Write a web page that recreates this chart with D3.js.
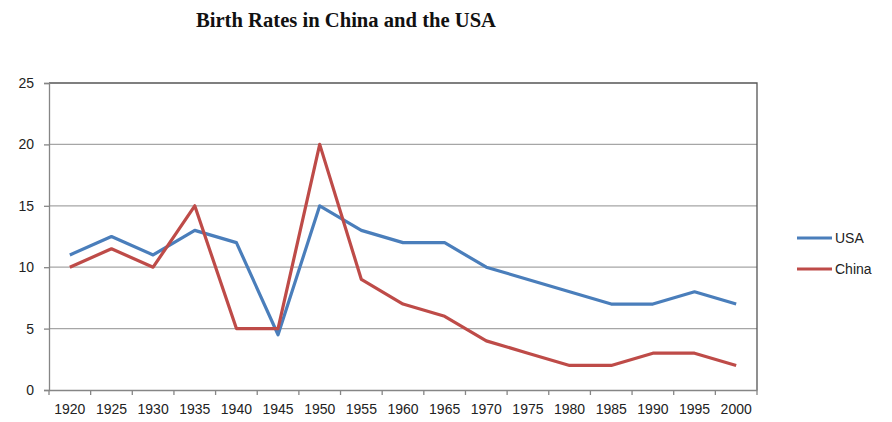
<!DOCTYPE html>
<html>
<head>
<meta charset="utf-8">
<script src="https://cdn.jsdelivr.net/npm/d3@7"></script>
<style>
  html, body { margin: 0; padding: 0; background: #fff; }
  svg { display: block; }
</style>
</head>
<body>
<svg id="chart" width="892" height="422"></svg>
<script>
// Birth rates by year for the two countries
const years = ["1920","1925","1930","1935","1940","1945","1950","1955","1960","1965","1970","1975","1980","1985","1990","1995","2000"];
const usa   = [11, 12.5, 11, 13, 12, 4.5, 15, 13, 12, 12, 10, 9, 8, 7, 7, 8, 7];
const china = [10, 11.5, 10, 15, 5, 5, 20, 9, 7, 6, 4, 3, 2, 2, 3, 3, 2];
const yTicks = [0, 5, 10, 15, 20, 25];
const seriesNames = ["USA", "China"];
const seriesColors = ["#4a7ebb", "#be4b48"];

const svg = d3.select("#chart");
const plot = { left: 49, right: 757, top: 83, bottom: 390 };

const x = d3.scaleBand().domain(years).range([plot.left, plot.right]);
const y = d3.scaleLinear().domain([0, 25]).range([plot.bottom, plot.top]);

// Title
svg.append("text")
  .attr("x", 346).attr("y", 27)
  .attr("text-anchor", "middle")
  .attr("font-family", "Liberation Serif, Times New Roman, serif")
  .attr("font-weight", "bold")
  .attr("font-size", 20)
  .attr("textLength", 300)
  .attr("lengthAdjust", "spacingAndGlyphs")
  .attr("fill", "#111")
  .text("Birth Rates in China and the USA");

// Horizontal gridlines
svg.append("g")
  .selectAll("line")
  .data(yTicks.filter(d => d > 0 && d < 25))
  .join("line")
  .attr("x1", plot.left).attr("x2", plot.right)
  .attr("y1", d => y(d)).attr("y2", d => y(d))
  .attr("stroke", "#a6a6a6").attr("stroke-width", 1.3);

// Plot frame (top and right)
svg.append("path")
  .attr("d", `M${plot.left},${plot.top}H${plot.right}V${plot.bottom}`)
  .attr("fill", "none").attr("stroke", "#555").attr("stroke-width", 1.3);

// Y axis
const yAxis = svg.append("g")
  .attr("transform", `translate(${plot.left},0)`)
  .call(d3.axisLeft(y).tickValues(yTicks).tickSize(5).tickPadding(10));
yAxis.select(".domain").attr("stroke", "#868686").attr("stroke-width", 1.3);
yAxis.selectAll(".tick line").attr("stroke", "#868686").attr("stroke-width", 1.3);
yAxis.selectAll("text")
  .attr("font-family", "Liberation Sans, Arial, sans-serif")
  .attr("font-size", 14).attr("fill", "#222");

// X axis with ticks at category boundaries
const xAxis = svg.append("g")
  .attr("transform", `translate(0,${plot.bottom})`)
  .call(d3.axisBottom(x).tickSize(0).tickPadding(14));
xAxis.select(".domain").attr("stroke", "#868686").attr("stroke-width", 1.3);
xAxis.selectAll("text")
  .attr("font-family", "Liberation Sans, Arial, sans-serif")
  .attr("font-size", 14).attr("fill", "#222");
const bounds = years.map(d => x(d)).concat([x(years[years.length - 1]) + x.bandwidth()]);
xAxis.selectAll("line.bound")
  .data(bounds)
  .join("line")
  .attr("class", "bound")
  .attr("x1", d => d).attr("x2", d => d)
  .attr("y1", 0).attr("y2", 5)
  .attr("stroke", "#868686").attr("stroke-width", 1.3);

// Series lines
const line = d3.line()
  .x((d, i) => x(years[i]) + x.bandwidth() / 2)
  .y(d => y(d));

[usa, china].forEach((vals, k) => {
  svg.append("path")
    .datum(vals)
    .attr("fill", "none")
    .attr("stroke", seriesColors[k])
    .attr("stroke-width", 3.2)
    .attr("stroke-linejoin", "round")
    .attr("d", line);
});

// Legend
const legend = svg.append("g").attr("transform", "translate(797,238)");
seriesNames.forEach((name, k) => {
  const g = legend.append("g").attr("transform", `translate(0,${k * 31})`);
  g.append("line")
    .attr("x1", 0).attr("x2", 35).attr("y1", 0).attr("y2", 0)
    .attr("stroke", seriesColors[k]).attr("stroke-width", 3.2);
  g.append("text")
    .attr("x", 38).attr("y", 0).attr("dy", "0.35em")
    .attr("font-family", "Liberation Sans, Arial, sans-serif")
    .attr("font-size", 14).attr("fill", "#222")
    .text(name);
});
</script>
</body>
</html>
